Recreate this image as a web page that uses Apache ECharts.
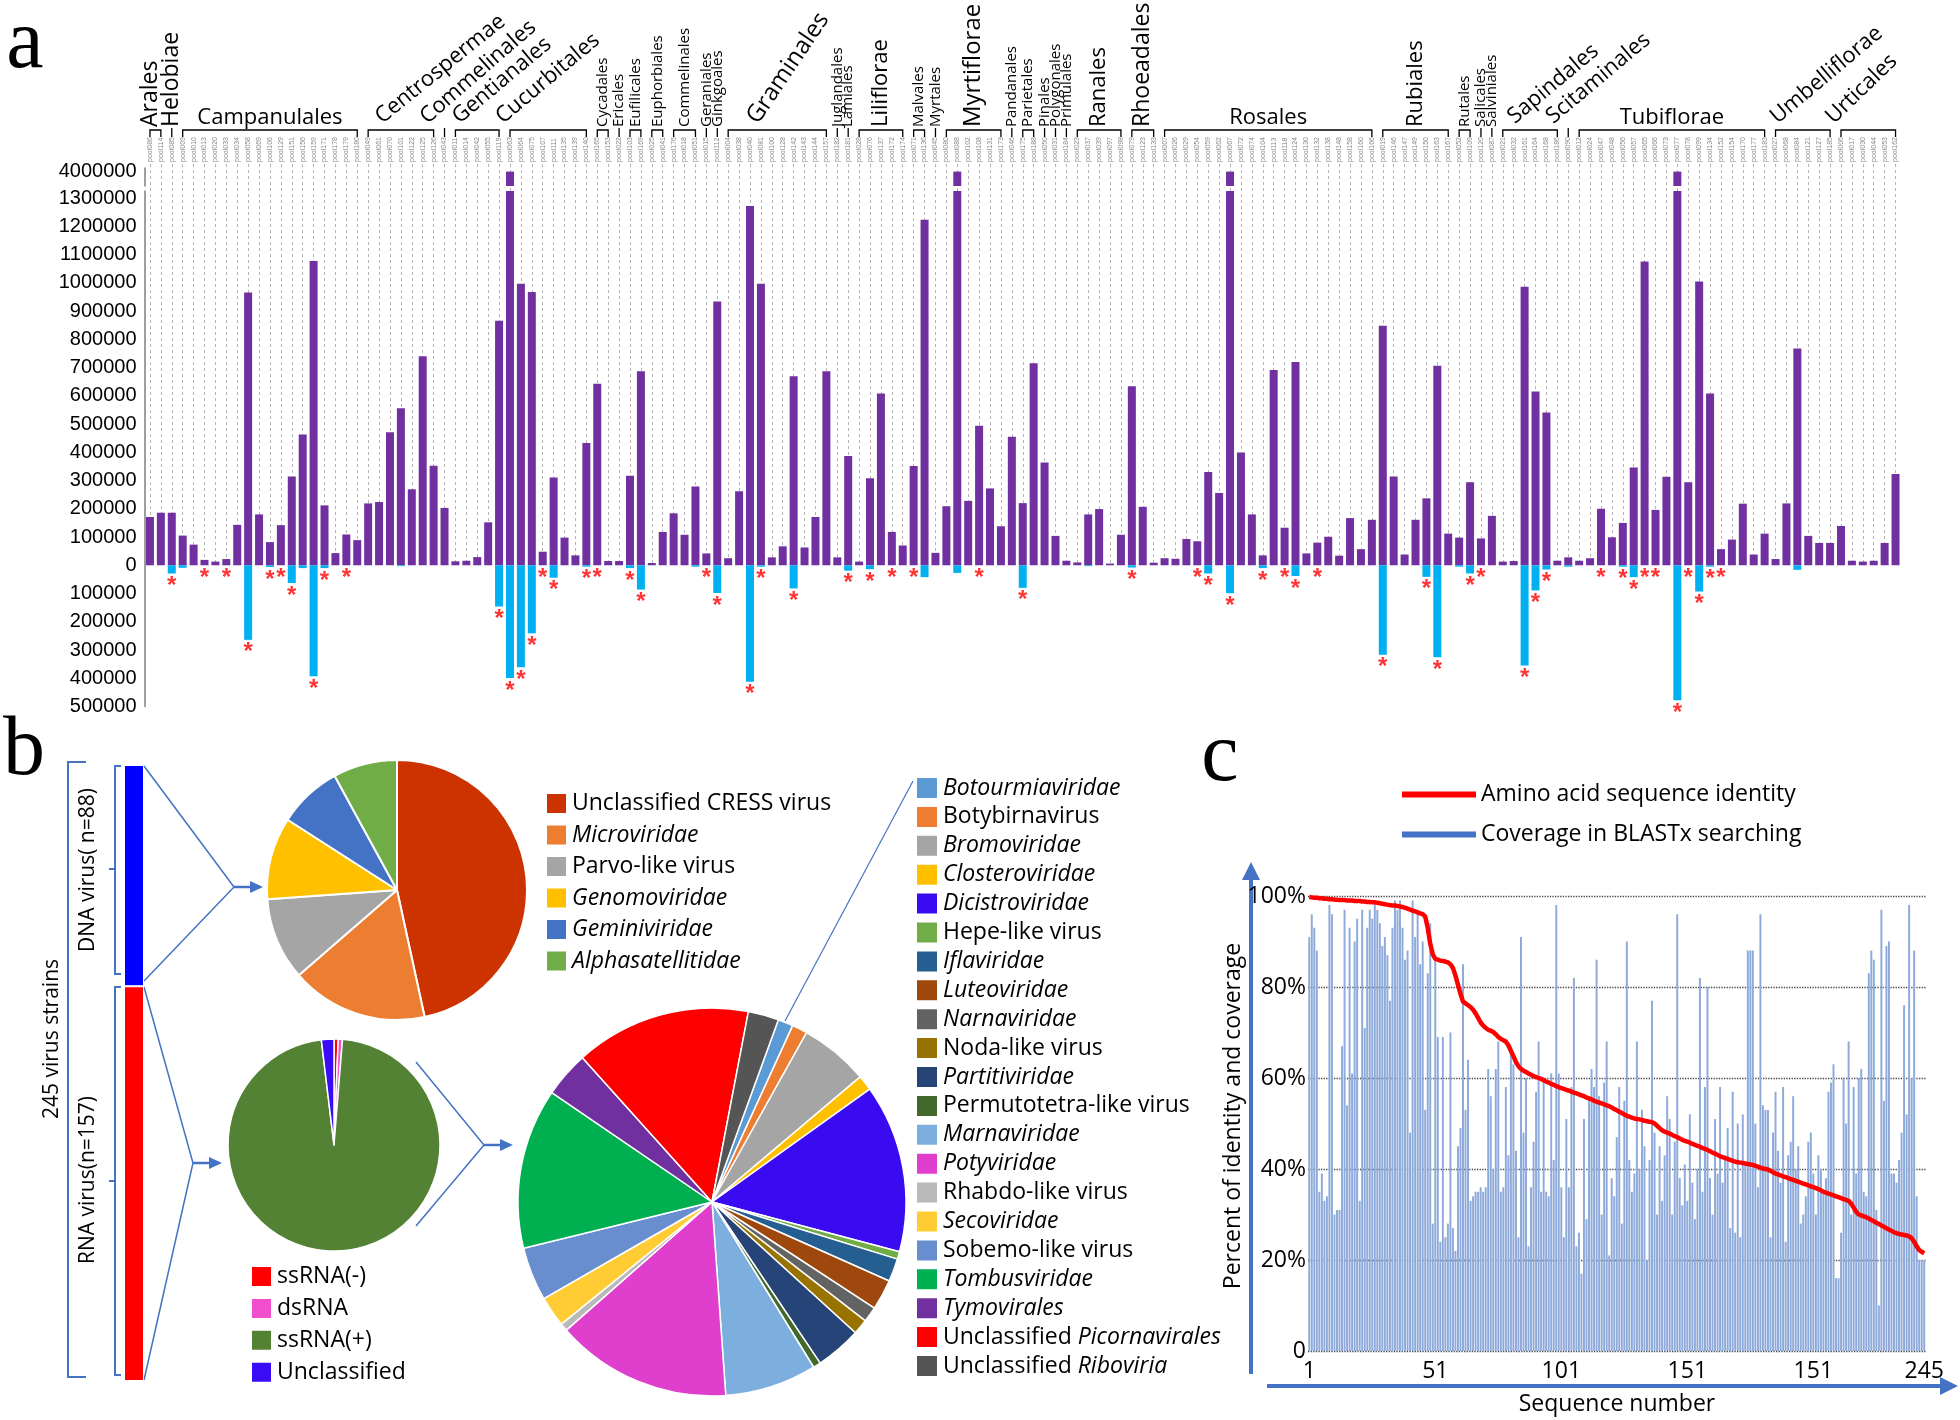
<!DOCTYPE html>
<html>
<head>
<meta charset="utf-8">
<title>Plant virome overview</title>
<script src="https://cdn.jsdelivr.net/npm/echarts@6.0.0/dist/echarts.min.js"></script>
<style>
html, body { margin: 0; padding: 0; background: #fff; }
#main { width: 1960px; height: 1420px; }
</style>
</head>
<body>
<div id="main"></div>
<script>
/*
    a: reads per pool, b: virus composition pies, c: identity / coverage
*/

// ---- panel a ----
var pools = [
    'pool086','pool114','pool085',
    'pool009','pool010','pool013','pool020','pool033','pool034','pool058','pool069','pool106','pool129','pool151','pool156','pool159','pool171','pool178','pool179','pool180',
    'pool049','pool061','pool070','pool101','pool122','pool125','pool126',
    'pool043',
    'pool011','pool014','pool042','pool055','pool119',
    'pool063','pool064','pool075','pool107','pool111','pool135','pool139','pool140',
    'pool165','pool153','pool022','pool103','pool169','pool025','pool041','pool176','pool018','pool051',
    'pool015','pool112',
    'pool004','pool038','pool040','pool081','pool100','pool128','pool142','pool143','pool144','pool157',
    'pool182','pool181',
    'pool028','pool076','pool137','pool172','pool174',
    'pool071','pool136','pool045',
    'pool080','pool088','pool102','pool108','pool131','pool173',
    'pool046','pool175','pool188','pool050','pool031','pool184',
    'pool023','pool037','pool039','pool097','pool098',
    'pool079','pool123','pool133',
    'pool007','pool026','pool029','pool054','pool059','pool062','pool067','pool072','pool074','pool104','pool113','pool118','pool124','pool130','pool132','pool138','pool148','pool158','pool160','pool166',
    'pool019','pool146','pool147','pool149','pool150','pool163','pool167',
    'pool052','pool109','pool120','pool087',
    'pool021','pool032','pool161','pool164','pool168','pool186',
    'pool090',
    'pool012','pool024','pool047','pool048','pool056','pool057','pool065','pool066','pool073','pool077','pool078','pool099','pool134','pool152','pool154','pool170','pool177','pool183',
    'pool027','pool068','pool084','pool121','pool127','pool185',
    'pool006','pool017','pool030','pool044','pool053','pool162'
];

var orderNames = ['Arales','Helobiae','Campanulales','Centrospermae','Commelinales','Gentianales','Cucurbitales',
    'Cycadales','Ericales','Eufilicales','Euphorbiales','Commelinales','Geraniales','Ginkgoales','Graminales',
    'Juglandales','Lamiales','Liliflorae','Malvales','Myrtales','Myrtiflorae','Pandanales','Parietales','Pinales',
    'Polygonales','Primulales','Ranales','Rhoeadales','Rosales','Rubiales','Rutales','Salicales','Salviniales',
    'Sapindales','Scitaminales','Tubiflorae','Umbelliflorae','Urticales'];
var orderSizes = [2,1,17,7,1,5,8, 2,1,2,2,3,1,1,10, 1,1,5,2,1,6,1,2,1, 1,1,5,3,20,7,2,1,1, 6,1,18,6,6];

var positiveReads = [
    171000,186000,186000,105000,73000,19000,13000,22000,143000,966000,
    180000,82000,142000,314000,463000,1077000,212000,43000,109000,89000,
    219000,224000,471000,556000,269000,740000,352000,203000,14000,16000,
    29000,152000,866000,4000000,997000,967000,48000,311000,98000,35000,
    433000,643000,15000,15000,317000,687000,8000,118000,184000,108000,
    279000,42000,934000,25000,262000,1272000,997000,28000,67000,669000,
    63000,171000,687000,28000,387000,13000,308000,608000,118000,70000,
    351000,1223000,44000,209000,4000000,228000,494000,272000,138000,455000,
    220000,715000,364000,104000,16000,10000,180000,199000,6000,108000,
    634000,207000,9000,25000,23000,93000,85000,330000,256000,4000000,
    399000,180000,35000,691000,133000,720000,42000,80000,101000,34000,
    167000,57000,161000,848000,314000,38000,161000,237000,706000,112000,
    98000,294000,95000,175000,13000,15000,986000,615000,541000,16000,
    28000,16000,25000,200000,99000,150000,346000,1075000,196000,313000,
    4000000,294000,1005000,608000,57000,91000,218000,38000,112000,22000,
    219000,767000,104000,79000,79000,139000,16000,13000,16000,79000,
    323000
];
var negativeReads = [
    0,0,-29000,-9000,0,0,0,0,0,-264000,
    0,-6000,0,-63000,-10000,-393000,-10000,0,0,0,
    0,0,0,-3000,0,0,0,0,0,0,
    0,0,-146000,-399000,-361000,-241000,0,-44000,0,0,
    -5000,0,0,0,-10000,-86000,0,0,0,0,
    -5000,0,-98000,0,0,-412000,-5000,0,0,-82000,
    0,0,0,0,-19000,0,-14000,0,0,0,
    0,-42000,0,0,-27000,0,0,0,0,0,
    -80000,0,0,0,0,0,-3000,0,0,0,
    -8000,0,0,0,0,0,0,-29000,0,-99000,
    0,0,-10000,0,0,-38000,0,0,0,0,
    0,0,0,-317000,0,0,0,-41000,-326000,0,
    -5000,-29000,0,0,0,0,-355000,-89000,-15000,0,
    -5000,0,0,0,0,-5000,-42000,0,0,0,
    -478000,0,-93000,-5000,0,0,0,0,0,0,
    0,-16000,0,0,0,0,0,0,0,0,
    0
];
// pools marked with a red asterisk (1-based position)
var starredPools = [3,6,8,10,12,13,14,16,17,19,33,34,35,36,37,38,41,42,45,46,52,53,56,57,60,65,67,69,71,77,81,
    91,97,98,100,103,105,106,108,114,118,119,122,123,127,128,129,134,136,137,138,139,141,142,143,144,145];

// ---- panel b ----
var strainGroups = ['DNA virus', 'RNA virus'];
var strainCounts = [88, 157];

var dnaFamilies = ['Unclassified CRESS virus','Microviridae','Parvo-like virus','Genomoviridae','Geminiviridae','Alphasatellitidae'];
var dnaCounts = [41, 15, 9, 9, 7, 7];

var rnaTypes = ['ssRNA(-)','dsRNA','ssRNA(+)','Unclassified'];
var rnaTypeCounts = [1, 1, 152, 3];

var rnaFamilies = ['Botourmiaviridae','Botybirnavirus','Bromoviridae','Closteroviridae','Dicistroviridae','Hepe-like virus',
    'Iflaviridae','Luteoviridae','Narnaviridae','Noda-like virus','Partitiviridae','Permutotetra-like virus','Marnaviridae',
    'Potyviridae','Rhabdo-like virus','Secoviridae','Sobemo-like virus','Tombusviridae','Tymovirales',
    'Unclassified Picornavirales','Unclassified Riboviria'];
var rnaFamilyCounts = [2, 2, 9, 2, 22, 1, 3, 4, 2, 2, 6, 1, 12, 23, 1, 4, 7, 21, 6, 23, 4];

// ---- panel c ----
var identity = [
    99.8,99.7,99.6,99.6,99.5,99.5,99.4,99.4,99.3,99.3,
    99.2,99.2,99.1,99.1,99.1,99.0,99.0,99.0,98.9,98.9,
    98.9,98.8,98.8,98.7,98.7,98.6,98.6,98.5,98.4,98.3,
    98.2,98.1,98.0,97.9,97.9,97.8,97.7,97.6,97.4,97.2,
    97.0,96.8,96.6,96.4,96.2,96.0,95.5,93.0,89.5,87.2,
    86.2,86.0,85.8,85.7,85.6,85.4,85.0,84.2,82.5,80.5,
    78.5,76.8,76.4,76.0,75.6,75.0,74.2,73.2,72.2,71.5,
    71.0,70.6,70.4,70.1,69.6,69.0,68.6,68.3,68.0,67.2,
    66.0,64.8,63.5,62.6,62.0,61.6,61.3,61.0,60.7,60.4,
    60.2,60.0,59.8,59.5,59.2,59.0,58.7,58.5,58.2,58.0,
    57.8,57.6,57.4,57.2,57.0,56.8,56.6,56.4,56.2,56.0,
    55.7,55.5,55.3,55.0,54.8,54.6,54.4,54.2,54.0,53.8,
    53.5,53.2,52.9,52.6,52.3,52.0,51.7,51.5,51.3,51.1,
    51.0,50.9,50.8,50.6,50.5,50.4,50.3,50.0,49.5,49.0,
    48.5,48.2,48.0,47.8,47.5,47.2,47.0,46.7,46.4,46.2,
    46.0,45.8,45.5,45.3,45.1,44.9,44.6,44.4,44.2,43.9,
    43.6,43.4,43.1,42.8,42.6,42.4,42.2,42.0,41.8,41.6,
    41.5,41.4,41.3,41.2,41.1,41.0,40.9,40.7,40.5,40.3,
    40.1,40.0,39.9,39.6,39.3,39.0,38.8,38.6,38.4,38.2,
    38.0,37.8,37.6,37.4,37.2,37.0,36.8,36.6,36.4,36.2,
    36.0,35.8,35.6,35.3,35.0,34.8,34.6,34.4,34.2,34.0,
    33.8,33.6,33.4,33.2,33.0,32.4,31.5,30.6,30.0,29.8,
    29.6,29.4,29.1,28.8,28.5,28.2,27.9,27.6,27.3,27.0,
    26.7,26.4,26.1,25.9,25.7,25.6,25.5,25.4,25.2,24.8,
    24.0,23.0,22.2,21.8,21.5
];
var coverage = [
    91,96,93,88,35,39,33,34,98,96,
    30,31,31,67,97,54,93,61,90,95,
    33,97,71,93,97,95,99,97,94,89,
    91,87,77,93,99,97,99,93,86,88,
    48,99,91,97,85,90,53,83,94,28,
    86,69,24,69,25,28,70,27,22,45,
    49,85,53,64,33,34,35,35,36,35,
    36,62,56,40,62,68,35,36,58,43,
    66,63,44,25,91,48,60,23,36,46,
    57,68,35,60,35,34,61,42,98,61,
    36,25,51,36,58,82,23,26,17,51,
    29,56,62,58,86,56,30,59,68,21,
    38,34,47,58,28,55,90,42,35,39,
    68,40,53,45,20,42,77,48,30,45,
    33,43,56,51,30,46,96,38,32,41,
    33,52,37,29,40,82,35,58,80,38,
    30,51,39,58,37,43,49,27,57,26,
    50,25,52,41,88,88,88,50,36,96,
    54,53,53,25,48,57,44,37,58,24,
    43,46,56,40,45,28,30,34,46,48,
    39,30,43,40,35,38,57,59,63,16,
    16,26,60,50,68,30,58,39,60,62,
    35,34,83,88,86,31,10,97,55,89,
    90,39,39,37,42,48,76,52,98,60,
    88,34,20,20,20
];
var seqTickPos = [1, 51, 101, 151, 201, 245];
var seqTickText = ['1', '51', '101', '151', '151', '245'];

// ---- looks ----
var FONT = "'Open Sans', 'Noto Sans', sans-serif";
var ARIAL = "'Liberation Sans', Arial, sans-serif";
var SERIF = "'Liberation Serif', 'Times New Roman', serif";
var LINE_BLUE = '#4472c4';
var dnaColors = ['#cc3300', '#ed7d31', '#a5a5a5', '#ffc000', '#4472c4', '#70ad47'];
var rnaTypeColors = ['#ff0000', '#f24fcf', '#548235', '#3a0bf5'];
var rnaFamilyColors = ['#5b9bd5', '#ed7d31', '#a5a5a5', '#ffc000', '#3a0bf0', '#70ad47', '#255e91', '#9e480e',
    '#636363', '#997300', '#264478', '#43682b', '#7cafdd', '#df3fcc', '#b9b9b9', '#ffcd33', '#698ed0',
    '#00b050', '#7030a0', '#ff0000', '#555555'];
var italicNames = ['Microviridae','Genomoviridae','Geminiviridae','Alphasatellitidae','Botourmiaviridae','Bromoviridae',
    'Closteroviridae','Dicistroviridae','Iflaviridae','Luteoviridae','Narnaviridae','Partitiviridae','Marnaviridae',
    'Potyviridae','Secoviridae','Tombusviridae','Tymovirales'];
// order label look: [rotation deg, font size, x shift]
var orderLook = [[90,23,-5],[90,23,0],[0,22,0],[39,22,17],[41,22,-14],[40,22,7],[40,22,-4],
    [90,15,0],[90,15,0],[90,15,0],[90,15,0],[90,15,0],[90,15,0],[90,15,0],[56,24,34],
    [90,15,0],[90,15,0],[90,22,0],[90,15,0],[90,15,0],[90,24,0],[90,15,0],[90,15,0],[90,15,0],
    [90,15,0],[90,15,0],[90,22,0],[90,23,0],[0,22,0],[90,22,0],[90,15,0],[90,15,0],[90,15,0],
    [40,22,15],[40,22,-12],[0,22,0],[40,22,5],[44,22,-4]];

function legendName(name) {
    if (italicNames.indexOf(name) >= 0) return '{i|' + name + '}';
    var m = name.match(/^Unclassified (Picornavirales|Riboviria)$/);
    if (m) return 'Unclassified {i|' + m[1] + '}';
    return name;
}
function pieData(names, values, colors) {
    return names.map(function (n, i) {
        return { name: n, value: values[i], itemStyle: { color: colors[i] } };
    });
}
function txt(x, y, s, size, o) {
    o = o || {};
    var font = (o.italic ? 'italic ' : '') + 'normal ' + size + 'px ' + (o.family || FONT);
    return {
        type: 'text', x: x, y: y, rotation: o.rot || 0, silent: true,
        style: {
            text: s, font: font, fill: o.color || '#000',
            textAlign: o.align || 'center', align: o.align || 'center',
            textVerticalAlign: o.valign || 'middle', verticalAlign: o.valign || 'middle'
        }
    };
}
function poly(points, color, width) {
    return { type: 'polyline', silent: true, shape: { points: points }, style: { stroke: color, lineWidth: width, fill: null } };
}
function tri(points, color) {
    return { type: 'polygon', silent: true, shape: { points: points }, style: { fill: color } };
}
function legendBox(names, left, top, size, gap, font) {
    return {
        data: names, orient: 'vertical', left: left, top: top, padding: 0, selectedMode: false,
        icon: 'rect', itemWidth: size, itemHeight: size, itemGap: gap, formatter: legendName,
        textStyle: { fontSize: font, fontFamily: FONT, color: '#000',
            rich: { i: { fontSize: font, fontFamily: FONT, fontStyle: 'italic', color: '#000' } } }
    };
}

var seqNumbers = identity.map(function (v, i) { return String(i + 1); });
var starData = starredPools.map(function (p) {
    return [pools[p - 1], Math.min(negativeReads[p - 1], 0)];
});

var chart = echarts.init(document.getElementById('main'));

var option = {
    animation: false,
    backgroundColor: '#fff',
    textStyle: { fontFamily: FONT },
    grid: [
        { left: 144.5, width: 1756.5, top: 164, height: 401 },
        { left: 144.5, width: 1756.5, top: 168, height: 18 },
        { left: 144.5, width: 1756.5, top: 191, height: 515.5 },
        { left: 1308, width: 617.5, top: 896, height: 455 },
        { left: 124, width: 20, top: 765, height: 616 }
    ],
    xAxis: [
        {
            gridIndex: 0, type: 'category', data: pools, position: 'top',
            axisLine: { show: false }, axisTick: { show: false },
            axisLabel: { interval: 0, rotate: 90, fontSize: 7, color: '#888', margin: 2, fontFamily: ARIAL },
            splitLine: { show: true, interval: 0, alignWithLabel: true,
                lineStyle: { color: '#b4b4b4', type: [3, 3], width: 1 } }
        },
        { gridIndex: 1, type: 'category', data: pools, show: false },
        { gridIndex: 2, type: 'category', data: pools, show: false },
        {
            gridIndex: 3, type: 'category', data: seqNumbers,
            axisLine: { show: false }, axisTick: { show: false },
            axisLabel: {
                interval: 0, fontSize: 23, color: '#000', margin: 9,
                formatter: function (v, i) {
                    var k = seqTickPos.indexOf(i + 1);
                    return k >= 0 ? seqTickText[k] : '';
                }
            }
        },
        { gridIndex: 4, type: 'category', data: ['strains'], show: false }
    ],
    yAxis: [
        { gridIndex: 0, type: 'value', show: false, min: 0, max: 1 },
        {
            gridIndex: 1, type: 'value', min: 3880000, max: 4030000, interval: 120000,
            axisLine: { show: true, lineStyle: { color: '#7f7f7f', width: 1.5 } },
            axisTick: { show: false }, splitLine: { show: false },
            axisLabel: { fontSize: 20, color: '#000', margin: 8, fontFamily: ARIAL,
                formatter: function (v) { return v === 4000000 ? '4000000' : ''; } }
        },
        {
            gridIndex: 2, type: 'value', min: -500000, max: 1325000, interval: 100000,
            axisLine: { show: true, lineStyle: { color: '#7f7f7f', width: 1.5 } },
            axisTick: { show: false }, splitLine: { show: false },
            axisLabel: { fontSize: 20, color: '#000', margin: 8, fontFamily: ARIAL,
                formatter: function (v) { return v > 1300000 ? '' : String(Math.abs(v)); } }
        },
        {
            gridIndex: 3, type: 'value', min: 0, max: 100, interval: 20,
            axisLine: { show: false }, axisTick: { show: false },
            axisLabel: { fontSize: 23, color: '#000', margin: 2,
                formatter: function (v) { return v === 0 ? '0' : v + '%'; } },
            splitLine: { lineStyle: { color: '#444', type: 'dotted', width: 1.3 } }
        },
        { gridIndex: 4, type: 'value', min: 0, max: 245, inverse: true, show: false }
    ],
    legend: [
        legendBox(dnaFamilies, 545, 792, 21, 8.5, 23),
        legendBox(rnaTypes, 250, 1265, 21, 8.9, 23),
        legendBox(rnaFamilies, 915, 776, 22, 4.9, 23),
        {
            data: [
                { name: 'Amino acid sequence identity' },
                { name: 'Coverage in BLASTx searching', itemStyle: { color: LINE_BLUE } }
            ],
            orient: 'vertical', left: 1402, top: 783, padding: 0, selectedMode: false,
            icon: 'rect', itemWidth: 74, itemHeight: 6, itemGap: 17,
            textStyle: { fontSize: 23, fontFamily: FONT, color: '#000' }
        }
    ],
    series: [
        {
            type: 'bar', name: 'reads', xAxisIndex: 2, yAxisIndex: 2, stack: 'reads',
            data: positiveReads, barWidth: 8, itemStyle: { color: '#7030a0' }
        },
        {
            type: 'bar', name: 'reads (negative)', xAxisIndex: 2, yAxisIndex: 2, stack: 'reads',
            data: negativeReads, barWidth: 8, itemStyle: { color: '#00b0f0' }
        },
        {
            type: 'bar', name: 'reads top', xAxisIndex: 1, yAxisIndex: 1,
            data: positiveReads, barWidth: 8, itemStyle: { color: '#7030a0' }
        },
        {
            type: 'scatter', name: 'stars', xAxisIndex: 2, yAxisIndex: 2, z: 4,
            data: starData, symbolSize: 2, itemStyle: { color: 'rgba(0,0,0,0)' },
            label: { show: true, formatter: '*', position: 'bottom', distance: 0,
                color: '#ff0000', fontSize: 24, fontWeight: 'bold', fontFamily: ARIAL }
        },
        {
            type: 'pie', name: 'DNA families', center: [397, 890], radius: 130, startAngle: 90,
            data: pieData(dnaFamilies, dnaCounts, dnaColors),
            label: { show: false }, labelLine: { show: false }, silent: true,
            itemStyle: { borderColor: '#fff', borderWidth: 2 }
        },
        {
            type: 'pie', name: 'RNA types', center: [334, 1145], radius: 106, startAngle: 90,
            data: pieData(rnaTypes, rnaTypeCounts, rnaTypeColors),
            label: { show: false }, labelLine: { show: false }, silent: true,
            itemStyle: { borderColor: '#fff', borderWidth: 1.5 }
        },
        {
            type: 'pie', name: 'RNA families', center: [712, 1202], radius: 194, startAngle: 70,
            data: pieData(rnaFamilies, rnaFamilyCounts, rnaFamilyColors),
            label: { show: false }, labelLine: { show: false }, silent: true,
            itemStyle: { borderColor: '#fff', borderWidth: 1.5 }
        },
        {
            type: 'bar', name: strainGroups[0], xAxisIndex: 4, yAxisIndex: 4, stack: 'strains', barWidth: '100%',
            data: [strainCounts[0]], itemStyle: { color: '#0000ff', borderColor: '#fff', borderWidth: 1 }
        },
        {
            type: 'bar', name: strainGroups[1], xAxisIndex: 4, yAxisIndex: 4, stack: 'strains', barWidth: '100%',
            data: [strainCounts[1]], itemStyle: { color: '#ff0000', borderColor: '#fff', borderWidth: 1 }
        },
        {
            type: 'bar', name: 'Coverage in BLASTx searching', xAxisIndex: 3, yAxisIndex: 3,
            data: coverage, barCategoryGap: '22%', itemStyle: { color: '#8eaadb' }
        },
        {
            type: 'line', name: 'Amino acid sequence identity', xAxisIndex: 3, yAxisIndex: 3, z: 5,
            data: identity, symbol: 'none', showSymbol: false,
            lineStyle: { color: '#ff0000', width: 4.5 }, itemStyle: { color: '#ff0000' }
        }
    ]
};
chart.setOption(option);

// static decorations of panels b and c
var marks = [
    txt(25, 45, 'a', 84, { family: SERIF }),
    txt(24, 752, 'b', 84, { family: SERIF }),
    txt(1220, 758, 'c', 84, { family: SERIF }),

    poly([[86, 762], [68, 762], [68, 1377], [86, 1377]], LINE_BLUE, 2),
    poly([[121, 766], [115, 766], [115, 974], [121, 974]], LINE_BLUE, 2),
    poly([[115, 869], [109, 869]], LINE_BLUE, 2),
    poly([[121, 987], [115, 987], [115, 1375], [121, 1375]], LINE_BLUE, 2),
    poly([[115, 1181], [109, 1181]], LINE_BLUE, 2),
    txt(52, 1039, '245 virus strains', 21, { rot: Math.PI / 2 }),
    txt(88, 870, 'DNA virus( n=88)', 21, { rot: Math.PI / 2 }),
    txt(88, 1180, 'RNA virus(n=157)', 21, { rot: Math.PI / 2 }),

    poly([[144, 766], [234, 887], [144, 981]], LINE_BLUE, 1.5),
    poly([[234, 887], [252, 887]], LINE_BLUE, 2.5),
    tri([[250, 881], [250, 893], [263, 887]], LINE_BLUE),
    poly([[144, 987], [193, 1163], [144, 1380]], LINE_BLUE, 1.5),
    poly([[193, 1163], [211, 1163]], LINE_BLUE, 2.5),
    tri([[209, 1157], [209, 1169], [222, 1163]], LINE_BLUE),
    poly([[416, 1062], [484, 1145], [416, 1226]], LINE_BLUE, 1.5),
    poly([[484, 1145], [502, 1145]], LINE_BLUE, 2.5),
    tri([[500, 1139], [500, 1151], [513, 1145]], LINE_BLUE),
    poly([[913, 781], [785, 1021]], LINE_BLUE, 1.2),

    poly([[1251, 1374], [1251, 876]], LINE_BLUE, 4),
    tri([[1242, 880], [1260, 880], [1251, 862]], LINE_BLUE),
    poly([[1267, 1386], [1942, 1386]], LINE_BLUE, 4),
    tri([[1940, 1377], [1940, 1395], [1958, 1386]], LINE_BLUE),
    txt(1617, 1404, 'Sequence number', 23),
    txt(1233, 1116, 'Percent of identity and coverage', 23, { rot: Math.PI / 2 })
];

// order brackets and names above panel a, placed with the category axis
var start = 0;
orderNames.forEach(function (name, k) {
    var n = orderSizes[k];
    var xa = chart.convertToPixel({ xAxisIndex: 0 }, pools[start]);
    var xb = chart.convertToPixel({ xAxisIndex: 0 }, pools[start + n - 1]);
    start += n;
    if (n > 1) marks.push(poly([[xa, 137], [xa, 130], [xb, 130], [xb, 137]], '#000', 1.3));
    else marks.push(poly([[xa, 128], [xa, 137]], '#000', 1.3));
    var lk = orderLook[k];
    var mid = (xa + xb) / 2;
    if (lk[0] === 0) {
        marks.push(txt(mid, 129, name, lk[1], { valign: 'bottom' }));
    } else if (lk[0] === 90) {
        marks.push(txt(mid + lk[2], 127, name, lk[1], { rot: Math.PI / 2, align: 'left' }));
    } else {
        marks.push(txt(xa + lk[2], 128, name, lk[1], { rot: lk[0] * Math.PI / 180, align: 'left', valign: 'bottom' }));
    }
});

chart.setOption({ graphic: { elements: marks } });
</script>
</body>
</html>
